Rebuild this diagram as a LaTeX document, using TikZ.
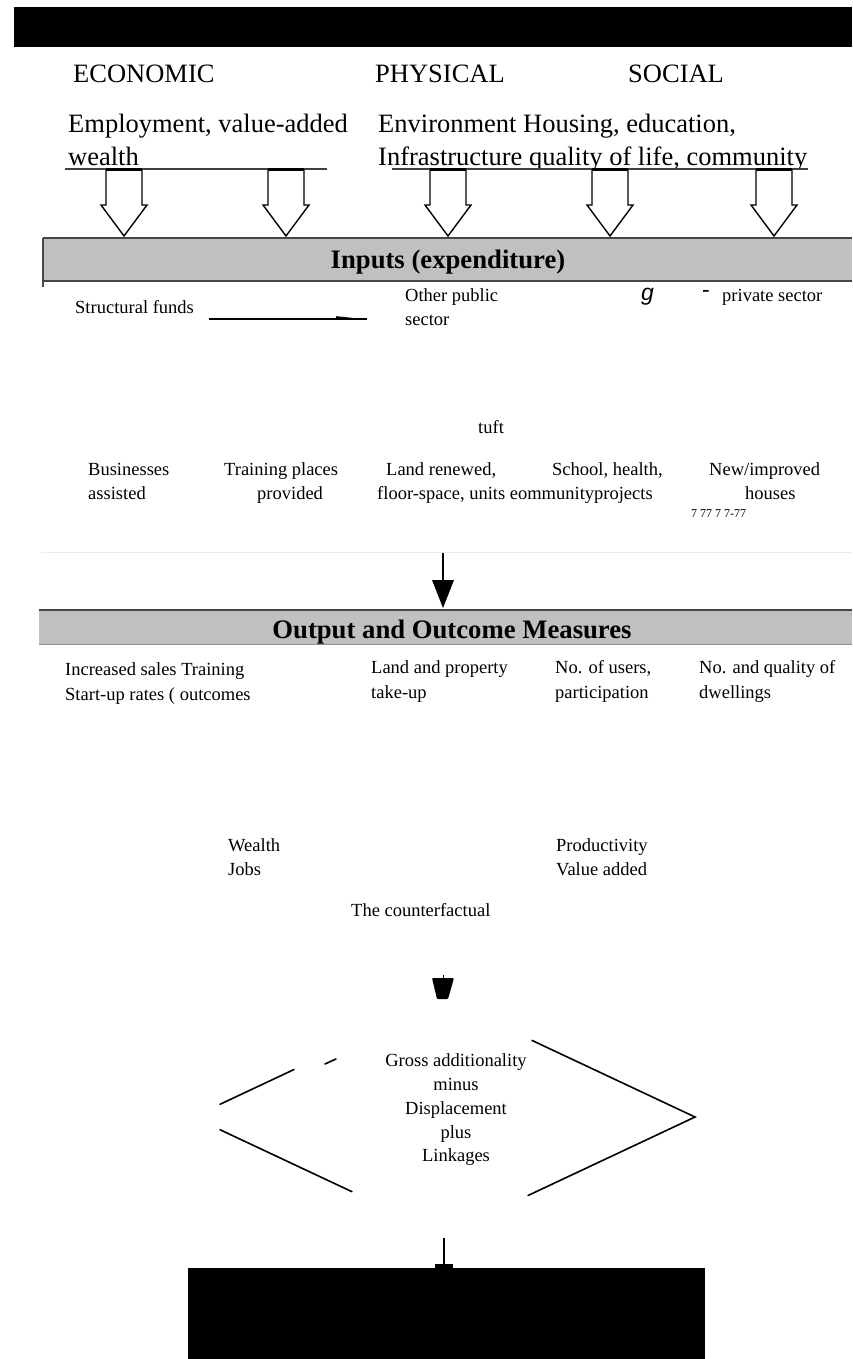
\documentclass[tikz,border=0pt]{standalone}
\usepackage{fontspec}
\setmainfont{Liberation Serif}
\newfontfamily\gsans{Liberation Sans}
\usetikzlibrary{calc}
\definecolor{bandgray}{RGB}{192,192,192}
\definecolor{bandedge}{RGB}{70,70,70}
\tikzset{
  big/.style={inner sep=0pt, anchor=base west, font=\fontsize{26.5}{30}\selectfont},
  txt/.style={inner sep=0pt, anchor=base west, font=\fontsize{18.5}{22}\selectfont},
  ctxt/.style={inner sep=0pt, anchor=base, font=\fontsize{18.5}{22}\selectfont},
  bandtxt/.style={inner sep=0pt, anchor=base, font=\fontsize{26.7}{30}\selectfont\bfseries},
  band/.style={fill=bandgray, draw=none},
  bandline/.style={draw=bandedge, line width=2pt},
  hollow/.style={draw=black, fill=white, line width=1.4pt, line join=miter},
  topline/.style={draw=black!75, line width=1.6pt},
  diag/.style={draw=black, line width=1.6pt, line cap=round},
  solidarrow/.style={draw=black, line width=1.2pt}
}
\begin{document}
\begin{tikzpicture}[x=1pt,y=-1pt]
\useasboundingbox (0,0) rectangle (852,1359);
\fill[white] (0,0) rectangle (852,1359);

% top black bar
\fill[black] (14,7) rectangle (852,47);

% headings
\node[big] (eco) at (73,83) {ECONOMIC};
\node[big] (phy) at (375,83) {PHYSICAL};
\node[big] (soc) at (628,83) {SOCIAL};

\node[big] (emp) at (68,133) {Employment, value-added};
\node[big] (env) at (378,133) {Environment Housing, education,};
\begin{scope}
  \clip (0,0) rectangle (852,168);
  \node[big] (wea) at (68,166) {wealth};
  \node[big] (inf) at (378,166) {Infrastructure quality of life, community};
\end{scope}

% top lines
\draw[topline] (65,169) -- (327,169);
\draw[topline] (392,169) -- (808,169);

% hollow arrows
\foreach \c/\n in {124/a1,286/a2,448/a3,610/a4,774/a5}{
  \draw[hollow] (\c-18,170) -- (\c-18,205) -- (\c-23,205) -- (\c,236) -- (\c+23,205) -- (\c+18,205) -- (\c+18,170);
  \draw[black, line width=3pt] (\c-18,170) -- (\c+18,170);
  \coordinate (\n) at (\c,236);
}

% Inputs band
\fill[band] (43,238) rectangle (852,281);
\draw[bandline] (43,238) -- (852,238);
\draw[bandline] (43,281) -- (852,281);
\draw[bandline] (43,238) -- (43,287);
\node[bandtxt] (inp) at (448,268) {Inputs (expenditure)};

% inputs row
\node[txt] (sf) at (75,313) {Structural funds};
\coordinate (sfa) at (209,319);
\coordinate (sfb) at (367,319);
\draw[black, line width=2.8pt] (sfa) -- (sfb);
\fill[black] (336,316.2) -- (352,317.8) -- (352,319) -- (336,319) -- cycle;
\node[txt] (op1) at (405,301) {Other public};
\node[txt] (op2) at (405,325) {sector};
\node[inner sep=0pt, anchor=base west, font=\fontsize{23}{26}\selectfont\gsans\itshape] (g) at (641,300) {g};
\node[inner sep=0pt, anchor=base west, font=\fontsize{23}{26}\selectfont\gsans] (dash) at (702,297) {-};
\node[txt] (ps) at (722,301) {private sector};

\node[txt] (tuft) at (478,433) {tuft};

% outputs row
\node[txt] (bu1) at (88,475) {Businesses};
\node[txt] (bu2) at (88,499) {assisted};
\node[txt] (tr1) at (224,475) {Training places};
\node[txt] (tr2) at (257,499) {provided};
\node[txt] (la1) at (386,475) {Land renewed,};
\node[txt] (la2) at (377,499) {floor-space, units eommunityprojects};
\node[txt] (sc1) at (552,475) {School, health,};
\node[txt] (ne1) at (709,475) {New/improved};
\node[txt] (ne2) at (745,499) {houses};
\node[inner sep=0pt, anchor=base west, font=\fontsize{12}{14}\selectfont] (sev) at (691,517) {7 77 7 7-77};

% faint line and arrow
\draw[gray!15, line width=1pt] (41,552) -- (852,552);
\coordinate (d1) at (443,553);
\coordinate (d2) at (443,582);
\draw[solidarrow] (d1) -- (d2);
\fill[black] (432,580) -- (454,580) -- (443,608) -- cycle;

% Output band
\fill[band] (39,610) rectangle (852,644);
\draw[bandline] (39,610) -- (852,610);
\draw[draw=bandedge!60, line width=1pt] (39,644) -- (852,644);
\node[bandtxt] (out) at (452,638) {Output and Outcome Measures};

% outcome row
\node[txt] (is1) at (65,675) {Increased sales Training};
\node[txt] (is2) at (65,700) {Start-up rates ( outcomes};
\node[txt] (lp1) at (371,673) {Land and property};
\node[txt] (lp2) at (371,698) {take-up};
\node[txt] (nu1) at (555,673) {No. of users,};
\node[txt] (nu2) at (555,698) {participation};
\node[txt] (nq1) at (699,673) {No. and quality of};
\node[txt] (nq2) at (699,698) {dwellings};

% impacts
\node[txt] (we) at (228,851) {Wealth};
\node[txt] (jo) at (228,875) {Jobs};
\node[txt] (pr) at (556,851) {Productivity};
\node[txt] (va) at (556,875) {Value added};
\node[txt] (cf) at (351,916) {The counterfactual};

% small arrowhead
\draw[black, line width=1pt] (443,975) -- (443,979);
\fill[black, rounded corners=1pt] (432,978) -- (454,978) -- (448,999) -- (437,999) -- cycle;

% diamond
\coordinate (L) at (193,1117);
\coordinate (T) at (444,999);
\coordinate (R) at (695,1117);
\coordinate (B) at (444,1235);
\draw[diag] (220,1104.3) -- (294,1069.5);
\draw[diag] (325,1064) -- (336,1059);
\draw[diag] (532,1040.4) -- (R) -- (528,1195.5);
\draw[diag] (220,1129.7) -- (352,1191.7);

\node[ctxt] (ga) at (456,1066) {Gross additionality};
\node[ctxt] (mi) at (456,1090) {minus};
\node[ctxt] (di) at (456,1114) {Displacement};
\node[ctxt] (pl) at (456,1138) {plus};
\node[ctxt] (li) at (456,1161) {Linkages};

% bottom arrow and black box
\coordinate (e1) at (444,1238);
\coordinate (e2) at (444,1266);
\draw[solidarrow] (e1) -- (e2);
\fill[black] (435,1264) rectangle (453,1269);
\fill[black] (188,1268) rectangle (705,1359);
\end{tikzpicture}
\end{document}
